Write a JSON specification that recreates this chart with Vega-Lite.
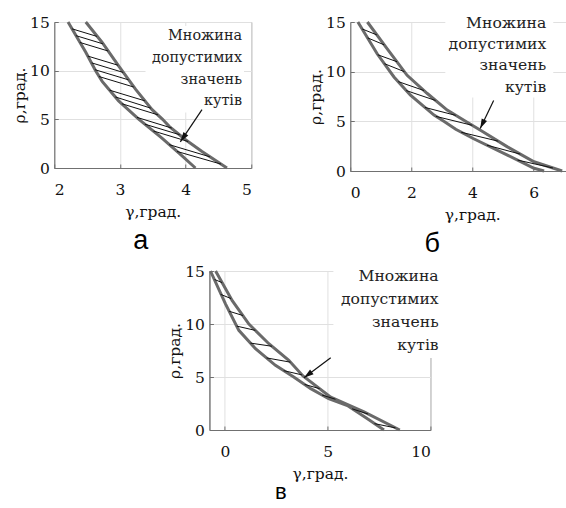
{
  "$schema": "https://vega.github.io/schema/vega-lite/v6.json",
  "background": "white",
  "padding": {"left": 12, "top": 12, "right": 0, "bottom": 0},
  "config": {
    "font": "DejaVu Serif",
    "view": {"stroke": "#8a8a8a", "strokeWidth": 1},
    "axis": {"grid": true, "gridColor": "#e0e0e0", "gridWidth": 1, "domainColor": "#707070", "domainWidth": 1, "tickColor": "#707070", "tickSize": -4, "labelFont": "DejaVu Serif", "labelFontSize": 15.5, "labelColor": "#111", "titleFont": "DejaVu Serif", "titleFontSize": 15.5, "titleFontWeight": "normal", "titleColor": "#111"},
    "axisX": {"labelPadding": 18.5, "titlePadding": 6},
    "axisY": {"labelPadding": 9, "titlePadding": 2},
    "title": {"font": "Liberation Sans", "fontSize": 27, "fontWeight": "normal", "color": "#000", "orient": "bottom", "offset": 8}
  },
  "datasets": {
    "curves": [
      {"p": "a", "c": "in", "g": 2.21, "r": 15}, {"p": "a", "c": "in", "g": 2.48, "r": 11.9}, {"p": "a", "c": "in", "g": 2.63, "r": 10}, {"p": "a", "c": "in", "g": 2.73, "r": 8.9}, {"p": "a", "c": "in", "g": 2.98, "r": 6.9}, {"p": "a", "c": "in", "g": 3.29, "r": 5.0}, {"p": "a", "c": "in", "g": 3.64, "r": 3.07}, {"p": "a", "c": "in", "g": 3.9, "r": 1.52}, {"p": "a", "c": "in", "g": 4.15, "r": 0},
      {"p": "a", "c": "out", "g": 2.48, "r": 15}, {"p": "a", "c": "out", "g": 2.73, "r": 12.9}, {"p": "a", "c": "out", "g": 2.98, "r": 10.5}, {"p": "a", "c": "out", "g": 3.24, "r": 8.07}, {"p": "a", "c": "out", "g": 3.49, "r": 6.0}, {"p": "a", "c": "out", "g": 3.65, "r": 5.0}, {"p": "a", "c": "out", "g": 3.75, "r": 4.28}, {"p": "a", "c": "out", "g": 4.0, "r": 2.9}, {"p": "a", "c": "out", "g": 4.25, "r": 1.69}, {"p": "a", "c": "out", "g": 4.63, "r": 0},
      {"p": "b", "c": "in", "g": 0.25, "r": 15}, {"p": "b", "c": "in", "g": 0.88, "r": 11.8}, {"p": "b", "c": "in", "g": 1.43, "r": 9.47}, {"p": "b", "c": "in", "g": 1.97, "r": 7.63}, {"p": "b", "c": "in", "g": 2.74, "r": 5.63}, {"p": "b", "c": "in", "g": 3.06, "r": 5.0}, {"p": "b", "c": "in", "g": 3.45, "r": 4.2}, {"p": "b", "c": "in", "g": 4.02, "r": 3.27}, {"p": "b", "c": "in", "g": 5.14, "r": 1.6}, {"p": "b", "c": "in", "g": 6.01, "r": 0.27}, {"p": "b", "c": "in", "g": 6.34, "r": 0},
      {"p": "b", "c": "out", "g": 0.56, "r": 15}, {"p": "b", "c": "out", "g": 1.21, "r": 12.3}, {"p": "b", "c": "out", "g": 1.86, "r": 9.63}, {"p": "b", "c": "out", "g": 2.52, "r": 7.8}, {"p": "b", "c": "out", "g": 3.17, "r": 6.13}, {"p": "b", "c": "out", "g": 3.77, "r": 5.0}, {"p": "b", "c": "out", "g": 4.26, "r": 4.1}, {"p": "b", "c": "out", "g": 5.14, "r": 2.43}, {"p": "b", "c": "out", "g": 6.01, "r": 0.93}, {"p": "b", "c": "out", "g": 6.93, "r": 0},
      {"p": "c", "c": "in", "g": -0.7, "r": 15}, {"p": "c", "c": "in", "g": 0.03, "r": 11.9}, {"p": "c", "c": "in", "g": 0.68, "r": 9.4}, {"p": "c", "c": "in", "g": 1.49, "r": 7.67}, {"p": "c", "c": "in", "g": 2.46, "r": 6.1}, {"p": "c", "c": "in", "g": 3.35, "r": 5.0}, {"p": "c", "c": "in", "g": 4.18, "r": 3.9}, {"p": "c", "c": "in", "g": 5.05, "r": 2.95}, {"p": "c", "c": "in", "g": 5.96, "r": 2.3}, {"p": "c", "c": "in", "g": 6.9, "r": 1.1}, {"p": "c", "c": "in", "g": 7.74, "r": 0},
      {"p": "c", "c": "out", "g": -0.45, "r": 15}, {"p": "c", "c": "out", "g": 0.36, "r": 12.2}, {"p": "c", "c": "out", "g": 1.17, "r": 10.0}, {"p": "c", "c": "out", "g": 2.14, "r": 8.14}, {"p": "c", "c": "out", "g": 3.11, "r": 6.57}, {"p": "c", "c": "out", "g": 3.8, "r": 5.1}, {"p": "c", "c": "out", "g": 5.15, "r": 3.1}, {"p": "c", "c": "out", "g": 6.77, "r": 1.7}, {"p": "c", "c": "out", "g": 8.51, "r": 0}
    ],
    "hatch": [
      {"p": "a", "g": 2.27, "r": 14.3, "g2": 2.65, "r2": 13.52}, {"p": "a", "g": 2.33, "r": 13.6, "g2": 2.74, "r2": 12.76}, {"p": "a", "g": 2.39, "r": 12.9, "g2": 2.82, "r2": 12.02},
      {"p": "a", "g": 2.51, "r": 11.5, "g2": 2.97, "r2": 10.56}, {"p": "a", "g": 2.57, "r": 10.8, "g2": 3.05, "r2": 9.82}, {"p": "a", "g": 2.62, "r": 10.1, "g2": 3.13, "r2": 9.06}, {"p": "a", "g": 2.68, "r": 9.4, "g2": 3.21, "r2": 8.32},
      {"p": "a", "g": 2.84, "r": 8.0, "g2": 3.38, "r2": 6.9}, {"p": "a", "g": 2.93, "r": 7.3, "g2": 3.47, "r2": 6.15}, {"p": "a", "g": 3.03, "r": 6.6, "g2": 3.58, "r2": 5.46},
      {"p": "a", "g": 3.26, "r": 5.2, "g2": 3.79, "r2": 4.1}, {"p": "a", "g": 3.38, "r": 4.5, "g2": 3.91, "r2": 3.42}, {"p": "a", "g": 3.51, "r": 3.8, "g2": 4.04, "r2": 2.72},
      {"p": "a", "g": 3.75, "r": 2.4, "g2": 4.37, "r2": 1.15}, {"p": "a", "g": 3.87, "r": 1.7, "g2": 4.54, "r2": 0.4},
      {"p": "b", "g": 0.39, "r": 14.3, "g2": 0.87, "r2": 13.7}, {"p": "b", "g": 0.57, "r": 13.4, "g2": 1.11, "r2": 12.7}, {"p": "b", "g": 0.9, "r": 11.7, "g2": 1.53, "r2": 11.0}, {"p": "b", "g": 1.12, "r": 10.8, "g2": 1.77, "r2": 10.0},
      {"p": "b", "g": 1.57, "r": 9.0, "g2": 2.41, "r2": 8.1}, {"p": "b", "g": 1.83, "r": 8.1, "g2": 2.79, "r2": 7.1}, {"p": "b", "g": 2.44, "r": 6.4, "g2": 3.45, "r2": 5.6}, {"p": "b", "g": 2.8, "r": 5.5, "g2": 3.99, "r2": 4.6},
      {"p": "b", "g": 3.63, "r": 3.9, "g2": 4.84, "r2": 3.0}, {"p": "b", "g": 4.47, "r": 2.6, "g2": 5.56, "r2": 1.7}, {"p": "b", "g": 5.47, "r": 1.1, "g2": 6.63, "r2": 0.3},
      {"p": "c", "g": -0.5, "r": 14.2, "g2": -0.13, "r2": 13.9}, {"p": "c", "g": -0.21, "r": 12.8, "g2": 0.3, "r2": 12.4}, {"p": "c", "g": 0.21, "r": 11.2, "g2": 0.88, "r2": 10.8}, {"p": "c", "g": 0.58, "r": 9.8, "g2": 1.48, "r2": 9.4},
      {"p": "c", "g": 1.24, "r": 8.2, "g2": 2.29, "r2": 7.9}, {"p": "c", "g": 2.03, "r": 6.8, "g2": 3.19, "r2": 6.4}, {"p": "c", "g": 2.86, "r": 5.6, "g2": 3.75, "r2": 5.2}, {"p": "c", "g": 3.88, "r": 4.3, "g2": 4.61, "r2": 3.9},
      {"p": "c", "g": 4.73, "r": 3.3, "g2": 5.38, "r2": 2.9}, {"p": "c", "g": 6.19, "r": 2.0, "g2": 6.97, "r2": 1.5}, {"p": "c", "g": 7.28, "r": 0.6, "g2": 8.3, "r2": 0.2}
    ],
    "arrows": [
      {"p": "a", "g": 3.92, "r": 2.69, "g2": 4.25, "r2": 6.0},
      {"p": "b", "g": 4.25, "r": 4.27, "g2": 4.69, "r2": 7.1},
      {"p": "c", "g": 3.85, "r": 4.93, "g2": 5.15, "r2": 6.82}
    ],
    "notes": [
      {"p": "a", "g": 4.86, "r": 13.55, "t": "Множина\nдопустимих\nзначень\nкутів"},
      {"p": "b", "g": 6.41, "r": 14.93, "t": "Множина\nдопустимих\nзначень\nкутів"},
      {"p": "c", "g": 10.4, "r": 14.5, "t": "Множина\nдопустимих\nзначень\nкутів"}
    ],
    "boxes": [
      {"p": "a", "g": 3.39, "r": 14.6, "g2": 4.89, "r2": 5.7},
      {"p": "b", "g": 3.11, "r": 15.9, "g2": 6.64, "r2": 7.4},
      {"p": "c", "g": 5.28, "r": 15.3, "g2": 10.42, "r2": 6.8}
    ]
  },
  "vconcat": [
    {
      "bounds": "flush",
      "spacing": 99,
      "hconcat": [
        {
          "width": 197, "height": 146,
          "title": {"text": "а", "dx": -12},
          "encoding": {
            "x": {"field": "g", "type": "quantitative", "scale": {"domain": [2, 5], "nice": false, "zero": false}, "axis": {"values": [2, 3, 4, 5], "title": "γ,град."}},
            "y": {"field": "r", "type": "quantitative", "scale": {"domain": [0, 15], "nice": false}, "axis": {"values": [0, 5, 10, 15], "title": "ρ,град."}}
          },
          "layer": [
            {"data": {"name": "boxes"}, "transform": [{"filter": "datum.p === 'a'"}], "mark": {"type": "rect", "fill": "white"}, "encoding": {"x2": {"field": "g2"}, "y2": {"field": "r2"}}},
            {"data": {"name": "curves"}, "transform": [{"filter": "datum.p === 'a'"}], "mark": {"type": "line", "color": "#6a6a6a", "strokeWidth": 3}, "encoding": {"detail": {"field": "c"}}},
            {"data": {"name": "hatch"}, "transform": [{"filter": "datum.p === 'a'"}], "mark": {"type": "rule", "color": "#111", "strokeWidth": 1}, "encoding": {"x2": {"field": "g2"}, "y2": {"field": "r2"}}},
            {"data": {"name": "arrows"}, "transform": [{"filter": "datum.p === 'a'"}], "mark": {"type": "rule", "color": "#111", "strokeWidth": 1.2}, "encoding": {"x2": {"field": "g2"}, "y2": {"field": "r2"}}},
            {"data": {"name": "arrows"}, "transform": [{"filter": "datum.p === 'a'"}], "mark": {"type": "point", "shape": "M0,0L-0.45,1.5L0.45,1.5Z", "filled": true, "color": "#111", "opacity": 1, "size": 170, "angle": 214.5}},
            {"data": {"name": "notes"}, "transform": [{"filter": "datum.p === 'a'"}], "mark": {"type": "text", "align": "right", "baseline": "middle", "lineBreak": "\n", "lineHeight": 21.7, "font": "DejaVu Serif", "fontSize": 14.4, "color": "#222"}, "encoding": {"text": {"field": "t"}}}
          ]
        },
        {
          "width": 244, "height": 149,
          "title": {"text": "б", "dx": -40},
          "encoding": {
            "x": {"field": "g", "type": "quantitative", "scale": {"domain": [0, 7.98], "nice": false, "zero": false}, "axis": {"values": [0, 2, 4, 6], "title": "γ,град."}},
            "y": {"field": "r", "type": "quantitative", "scale": {"domain": [0, 15], "nice": false}, "axis": {"values": [0, 5, 10, 15], "title": "ρ,град."}}
          },
          "layer": [
            {"data": {"name": "boxes"}, "transform": [{"filter": "datum.p === 'b'"}], "mark": {"type": "rect", "fill": "white"}, "encoding": {"x2": {"field": "g2"}, "y2": {"field": "r2"}}},
            {"data": {"name": "curves"}, "transform": [{"filter": "datum.p === 'b'"}], "mark": {"type": "line", "color": "#6a6a6a", "strokeWidth": 3}, "encoding": {"detail": {"field": "c"}}},
            {"data": {"name": "hatch"}, "transform": [{"filter": "datum.p === 'b'"}], "mark": {"type": "rule", "color": "#111", "strokeWidth": 1}, "encoding": {"x2": {"field": "g2"}, "y2": {"field": "r2"}}},
            {"data": {"name": "arrows"}, "transform": [{"filter": "datum.p === 'b'"}], "mark": {"type": "rule", "color": "#111", "strokeWidth": 1.2}, "encoding": {"x2": {"field": "g2"}, "y2": {"field": "r2"}}},
            {"data": {"name": "arrows"}, "transform": [{"filter": "datum.p === 'b'"}], "mark": {"type": "point", "shape": "M0,0L-0.45,1.5L0.45,1.5Z", "filled": true, "color": "#111", "opacity": 1, "size": 170, "angle": 205.2}},
            {"data": {"name": "notes"}, "transform": [{"filter": "datum.p === 'b'"}], "mark": {"type": "text", "align": "right", "baseline": "middle", "lineBreak": "\n", "lineHeight": 21.4, "font": "DejaVu Serif", "fontSize": 15.6, "color": "#222"}, "encoding": {"text": {"field": "t"}}}
          ]
        }
      ]
    },
    {
      "width": 221, "height": 159,
      "title": {"text": "в", "dx": -39, "offset": 0, "fontSize": 22},
      "encoding": {
        "x": {"field": "g", "type": "quantitative", "scale": {"domain": [-0.75, 10], "nice": false, "zero": false}, "axis": {"values": [0, 5, 10], "title": "γ,град."}},
        "y": {"field": "r", "type": "quantitative", "scale": {"domain": [0, 15], "nice": false}, "axis": {"values": [0, 5, 10, 15], "title": "ρ,град."}}
      },
      "layer": [
        {"data": {"name": "boxes"}, "transform": [{"filter": "datum.p === 'c'"}], "mark": {"type": "rect", "fill": "white"}, "encoding": {"x2": {"field": "g2"}, "y2": {"field": "r2"}}},
        {"data": {"name": "curves"}, "transform": [{"filter": "datum.p === 'c'"}], "mark": {"type": "line", "color": "#6a6a6a", "strokeWidth": 3}, "encoding": {"detail": {"field": "c"}}},
        {"data": {"name": "hatch"}, "transform": [{"filter": "datum.p === 'c'"}], "mark": {"type": "rule", "color": "#111", "strokeWidth": 1}, "encoding": {"x2": {"field": "g2"}, "y2": {"field": "r2"}}},
        {"data": {"name": "arrows"}, "transform": [{"filter": "datum.p === 'c'"}], "mark": {"type": "rule", "color": "#111", "strokeWidth": 1.2}, "encoding": {"x2": {"field": "g2"}, "y2": {"field": "r2"}}},
        {"data": {"name": "arrows"}, "transform": [{"filter": "datum.p === 'c'"}], "mark": {"type": "point", "shape": "M0,0L-0.45,1.5L0.45,1.5Z", "filled": true, "color": "#111", "opacity": 1, "size": 170, "angle": 233.1}},
        {"data": {"name": "notes"}, "transform": [{"filter": "datum.p === 'c'"}], "mark": {"type": "text", "align": "right", "baseline": "middle", "lineBreak": "\n", "lineHeight": 22.9, "font": "DejaVu Serif", "fontSize": 15.6, "color": "#222"}, "encoding": {"text": {"field": "t"}}}
      ]
    }
  ],
  "spacing": 6,
  "center": true
}
